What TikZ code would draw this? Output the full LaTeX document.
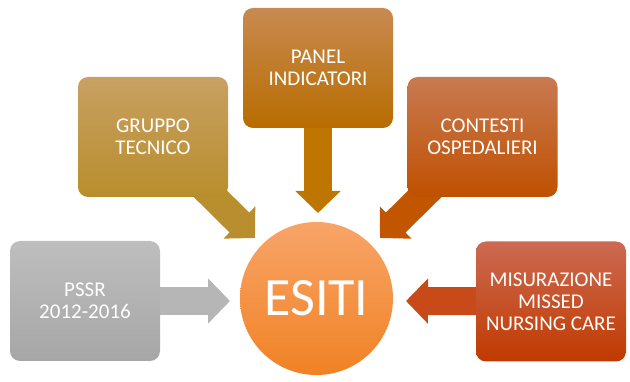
\documentclass[tikz,border=0pt]{standalone}
\usepackage{fontspec}
\setmainfont{Carlito}
\usetikzlibrary{arrows.meta,backgrounds}
\definecolor{grayT}{HTML}{BEBEBE}
\definecolor{grayB}{HTML}{A6A6A6}
\definecolor{grayA}{HTML}{B6B6B6}
\definecolor{gruT}{HTML}{C8A062}
\definecolor{gruB}{HTML}{B88E2C}
\definecolor{gruA}{HTML}{B88E2E}
\definecolor{panT}{HTML}{C88A50}
\definecolor{panB}{HTML}{B86C00}
\definecolor{panA}{HTML}{BE7600}
\definecolor{conT}{HTML}{C87A52}
\definecolor{conB}{HTML}{C05000}
\definecolor{conA}{HTML}{C25600}
\definecolor{misT}{HTML}{CC6A52}
\definecolor{misB}{HTML}{C03A00}
\definecolor{misA}{HTML}{C84A18}
\definecolor{esT}{HTML}{F8A468}
\definecolor{esB}{HTML}{F08224}
\begin{document}
\begin{tikzpicture}[x=1pt,y=-1pt,
  box/.style={rounded corners=10pt, minimum width=150pt, minimum height=120pt,
    text=white, align=center, inner sep=0pt,
    font=\fontsize{21}{22}\selectfont},
  arr/.style={line width=28pt, -{Triangle[length=22pt,width=44pt]}}]
\useasboundingbox (0,0) rectangle (630,382);
\node[box, top color=grayT, bottom color=grayB] (pssr) at (85,301) {PSSR\\2012-2016};
\node[box, top color=gruT, bottom color=gruB] (gruppo) at (153,137) {GRUPPO\\TECNICO};
\node[box, top color=panT, bottom color=panB] (panel) at (318,68) {PANEL\\INDICATORI};
\node[box, top color=conT, bottom color=conB] (contesti) at (482.5,137) {CONTESTI\\OSPEDALIERI};
\node[box, top color=misT, bottom color=misB] (misur) at (551,301.5) {MISURAZIONE\\MISSED\\NURSING CARE};
\node[circle, minimum size=153pt, inner sep=0pt, top color=esT, bottom color=esB,
  text=white, font=\fontsize{54}{60}\selectfont] (esiti) at (316.5,298.5) {ESITI};
\coordinate (tipP) at (230,301);
\coordinate (tipG) at (255,238);
\coordinate (tipN) at (318,213);
\coordinate (tipC) at (380,238);
\coordinate (tipM) at (406,301);
\begin{scope}[on background layer]
\draw[arr, draw=grayA] (pssr.center) -- (tipP);
\draw[arr, draw=gruA] (gruppo.center) -- (tipG);
\draw[arr, draw=panA] (panel.center) -- (tipN);
\draw[arr, draw=conA] (contesti.center) -- (tipC);
\draw[arr, draw=misA] (misur.center) -- (tipM);
\end{scope}
\end{tikzpicture}
\end{document}
